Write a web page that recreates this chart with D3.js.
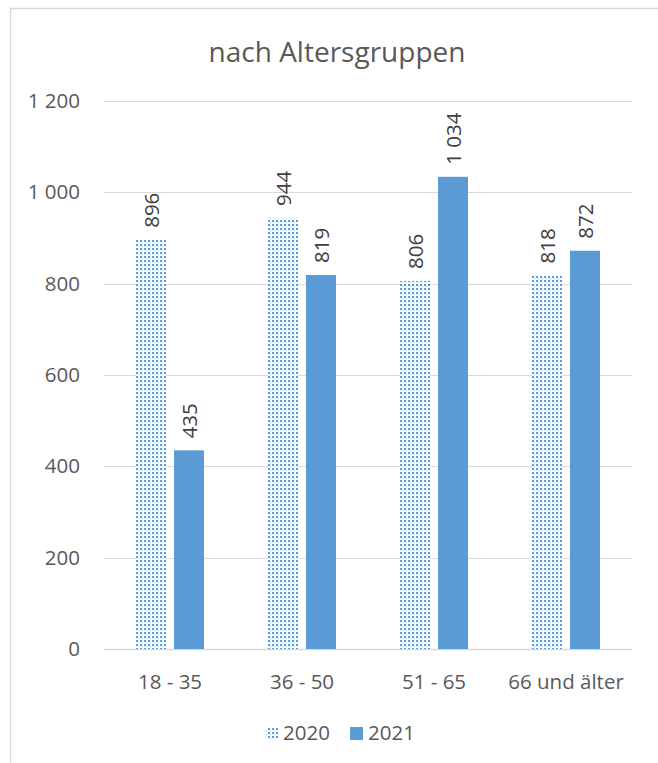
<!DOCTYPE html>
<html><head><meta charset="utf-8">
<script src="https://cdn.jsdelivr.net/npm/d3@7"></script>
<style>body{margin:0;background:#fff;}svg{display:block;}</style>
</head><body>
<script>
const categories = ["18 - 35", "36 - 50", "51 - 65", "66 und älter"];
const series2020 = [896, 944, 806, 818];
const series2021 = [435, 819, 1034, 872];
const seriesNames = ["2020", "2021"];
const yTicks = [0, 200, 400, 600, 800, 1000, 1200];
const title = "nach Altersgruppen";

const W = 658, H = 763;
const font = "'Open Sans', sans-serif";
const txt = "#595959";
const blue = "#5b9bd5";
const fs = 20.5;

const svg = d3.select("body").append("svg").attr("width", W).attr("height", H);
const defs = svg.append("defs");
const pat = defs.append("pattern").attr("id", "dots").attr("patternUnits", "userSpaceOnUse")
  .attr("width", 4).attr("height", 4);
pat.append("rect").attr("width", 4).attr("height", 4).attr("fill", "#fff");
pat.append("rect").attr("x", 0).attr("y", 0).attr("width", 2).attr("height", 2).attr("fill", blue);
pat.append("rect").attr("x", 2).attr("y", 2).attr("width", 1).attr("height", 1).attr("fill", "#a9c8e8");

// border
svg.append("path").attr("d", `M10.5,${H} V8.5 H${W}`).attr("fill", "none").attr("stroke", "#d9d9d9").attr("stroke-width", 1.5);

const x = d3.scaleBand().domain(categories).range([104, 632]);
const y = d3.scaleLinear().domain([0, 1200]).range([649, 101]);

// grid
svg.append("g").selectAll("line").data(yTicks).join("line")
  .attr("x1", 104).attr("x2", 632).attr("y1", d => Math.round(y(d)) + 0.5).attr("y2", d => Math.round(y(d)) + 0.5)
  .attr("stroke", "#d9d9d9").attr("stroke-width", d => d === 0 ? 1.5 : 1);

// y axis labels
const yAxis = d3.axisLeft(y).tickValues(yTicks).tickSize(0).tickPadding(0)
  .tickFormat(d => d3.format(",")(d).replace(/,/g, " "));
const gy = svg.append("g").attr("transform", "translate(80,0)").call(yAxis);
gy.select(".domain").remove();
gy.selectAll("text").attr("font-family", font).attr("font-size", fs).attr("fill", txt);

// x axis labels
const xAxis = d3.axisBottom(x).tickSize(0).tickPadding(0);
const gx = svg.append("g").attr("transform", "translate(0,689)").call(xAxis);
gx.select(".domain").remove();
gx.selectAll("text").attr("font-family", font).attr("font-size", fs).attr("fill", txt).attr("y", 0).attr("dy", 0);

const barW = 30, gap = 8;
const sub = d3.scaleOrdinal().domain(seriesNames).range([-(gap/2 + barW), gap/2]);
const data = [];
categories.forEach((c, i) => {
  data.push({c, s: "2020", v: series2020[i]});
  data.push({c, s: "2021", v: series2021[i]});
});

const bars = svg.append("g");
bars.selectAll("rect").data(data).join("rect")
  .attr("x", d => x(d.c) + x.bandwidth()/2 + sub(d.s))
  .attr("y", d => y(d.v))
  .attr("width", barW)
  .attr("height", d => y(0) - y(d.v))
  .attr("fill", d => d.s === "2020" ? "url(#dots)" : blue);

// labels
svg.append("g").selectAll("text").data(data).join("text")
  .attr("transform", d => `translate(${x(d.c) + x.bandwidth()/2 + sub(d.s) + barW/2 + 7.5},${y(d.v) - 12}) rotate(-90)`)
  .attr("font-family", font).attr("font-size", fs).attr("fill", "#404040")
  .text(d => d3.format(",")(d.v).replace(/,/g, " "));

// title
svg.append("text").attr("x", 337).attr("y", 62).attr("text-anchor", "middle")
  .attr("font-family", font).attr("font-size", 28).attr("fill", txt).text(title);

// legend
const leg = svg.append("g");
leg.append("rect").attr("x", 266).attr("y", 727).attr("width", 12).attr("height", 12).attr("fill", "url(#dots)");
leg.append("text").attr("x", 283).attr("y", 740).attr("font-family", font).attr("font-size", fs).attr("fill", txt).text(seriesNames[0]);
leg.append("rect").attr("x", 350).attr("y", 727).attr("width", 13).attr("height", 13).attr("fill", blue);
leg.append("text").attr("x", 368).attr("y", 740).attr("font-family", font).attr("font-size", fs).attr("fill", txt).text(seriesNames[1]);
</script>
</body></html>
